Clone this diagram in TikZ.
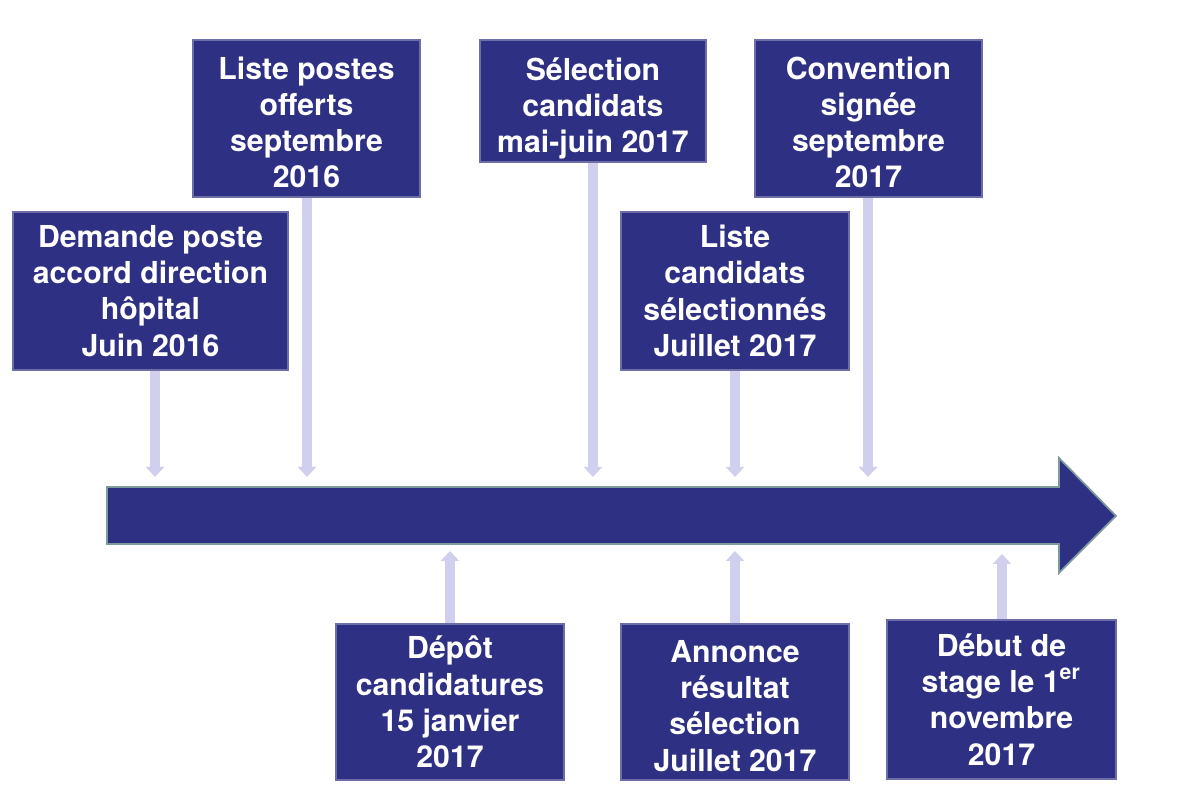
\documentclass[tikz,border=0pt]{standalone}
\usepackage{fontspec}
\setmainfont{TeX Gyre Heros}
\usetikzlibrary{arrows.meta}
\definecolor{bleufonce}{RGB}{46,48,131}
\definecolor{lavande}{RGB}{208,208,238}
\definecolor{bordgris}{RGB}{125,155,155}
\tikzset{
  etape/.style={rectangle,fill=bleufonce,draw=bleufonce!70!white,line width=0.4pt,
    text=white,align=center,inner sep=0pt,
    font=\fontsize{8.6}{10.3}\selectfont\bfseries},
  fleche/.style={draw=lavande,line width=0.1cm,-{Triangle[width=0.18cm,length=0.1cm]}}
}
\begin{document}
\begin{tikzpicture}
    \useasboundingbox (0,0) rectangle (12,7.95);
    % frise
    \filldraw[fill=bleufonce,draw=bordgris,line width=0.5pt]
      (1.07,3.08) -- (10.59,3.08) -- (10.59,3.37) -- (11.16,2.79)
      -- (10.59,2.22) -- (10.59,2.51) -- (1.07,2.51) -- cycle;

    % etapes au-dessus
    \node[etape,minimum width=2.75cm,minimum height=1.58cm] (demande) at (1.505,5.04)
      {Demande poste\\accord direction\\hôpital\\Juin 2016};
    \node[etape,minimum width=2.27cm,minimum height=1.57cm] (postes) at (3.065,6.765)
      {\rule{0pt}{0.3cm}Liste postes\\offerts\\septembre\\2016};
    \node[etape,minimum width=2.26cm,minimum height=1.22cm] (selection) at (5.93,6.94)
      {\rule{0pt}{0.38cm}Sélection\\candidats\\mai-juin 2017};
    \node[etape,minimum width=2.28cm,minimum height=1.58cm] (liste) at (7.35,5.04)
      {Liste\\candidats\\sélectionnés\\Juillet 2017};
    \node[etape,minimum width=2.27cm,minimum height=1.57cm] (convention) at (8.685,6.765)
      {\rule{0pt}{0.3cm}Convention\\signée\\septembre\\2017};

    % etapes en dessous
    \node[etape,minimum width=2.28cm,minimum height=1.56cm] (depot) at (4.50,0.93)
      {Dépôt\\candidatures\\15 janvier\\2017};
    \node[etape,minimum width=2.28cm,minimum height=1.56cm] (annonce) at (7.35,0.93)
      {\rule{0pt}{0.3cm}Annonce\\résultat\\sélection\\Juillet 2017};
    \node[etape,minimum width=2.29cm,minimum height=1.59cm] (debut) at (10.015,0.955)
      {Début de\\stage le 1\textsuperscript{er}\\novembre\\2017};

    % reperes sur la frise
    \coordinate (tDemande) at (1.55,3.18);
    \coordinate (tPostes) at (3.07,3.18);
    \coordinate (tSelection) at (5.93,3.18);
    \coordinate (tListe) at (7.35,3.18);
    \coordinate (tConvention) at (8.68,3.18);
    \coordinate (tDepot) at (4.50,2.44);
    \coordinate (tAnnonce) at (7.35,2.44);
    \coordinate (tDebut) at (10.02,2.41);

    \draw[fleche] (tDemande |- demande.south) -- (tDemande);
    \draw[fleche] (tPostes |- postes.south) -- (tPostes);
    \draw[fleche] (selection.south) -- (tSelection);
    \draw[fleche] (liste.south) -- (tListe);
    \draw[fleche] (tConvention |- convention.south) -- (tConvention);
    \draw[fleche] (depot.north) -- (tDepot);
    \draw[fleche] (annonce.north) -- (tAnnonce);
    \draw[fleche] (tDebut |- debut.north) -- (tDebut);
\end{tikzpicture}
\end{document}
